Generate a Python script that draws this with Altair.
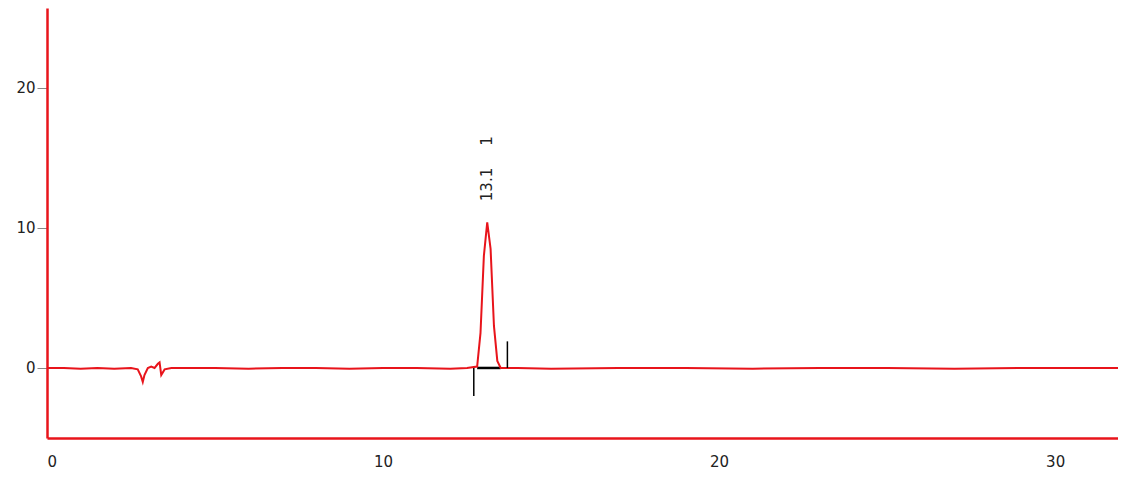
import altair as alt
import pandas as pd

# chromatogram trace (minutes, mAU)
trace_t = [0, 0.5, 1.0, 1.5, 2.0, 2.5, 2.7, 2.8, 2.85, 2.9, 3.0, 3.1, 3.2, 3.3, 3.35, 3.4, 3.5, 3.7, 4.0,
           5, 6, 7, 8, 9, 10, 11, 12, 12.5, 12.8, 12.9, 13.0, 13.1, 13.2, 13.3, 13.4, 13.5, 13.7,
           14, 15, 17, 19, 21, 23, 25, 27, 29, 31, 32]
trace_v = [0, 0, -0.05, 0, -0.05, 0, -0.1, -0.6, -1.0, -0.5, 0, 0.1, 0, 0.3, 0.4, -0.5, -0.1, 0, 0,
           0, -0.05, 0, 0, -0.05, 0, 0, -0.05, 0, 0.1, 2.5, 8.0, 10.4, 8.5, 3.0, 0.5, 0, 0,
           0, -0.05, 0, 0, -0.05, 0, 0, -0.05, 0, 0, 0]

# integration marks
mark_x = [12.7, 13.7]
mark_lo = [-2.0, 0]
mark_hi = [0, 1.9]
base_x = [12.8, 13.5]

peak_t = [13.1, 13.1]
peak_y = [13.1, 16.2]
peak_txt = ["13.1", "1"]

xs = alt.Scale(domain=[0, 31.87], nice=False, zero=False)
ys = alt.Scale(domain=[-5, 25.7], nice=False, zero=False)

trace = alt.Chart(pd.DataFrame({"t": trace_t, "v": trace_v})).mark_line(
    color="#e8141b", strokeWidth=2, clip=True
).encode(
    x=alt.X("t:Q", scale=xs, title=None,
            axis=alt.Axis(values=[0, 10, 20, 30], ticks=False, labelPadding=16,
                          domainColor="#e8141b", domainWidth=2.5, grid=False)),
    y=alt.Y("v:Q", scale=ys, title=None,
            axis=alt.Axis(values=[0, 10, 20], tickSize=10, tickColor="#888888",
                          domainColor="#e8141b", domainWidth=2.5, grid=False)),
)

ticks = alt.Chart(pd.DataFrame({"t": mark_x, "lo": mark_lo, "hi": mark_hi})).mark_rule(
    color="black", strokeWidth=1.5
).encode(x=alt.X("t:Q", scale=xs), y=alt.Y("lo:Q", scale=ys), y2="hi:Q")

baseline = alt.Chart(pd.DataFrame({"t": base_x, "v": [0, 0]})).mark_line(
    color="black", strokeWidth=2.5
).encode(x=alt.X("t:Q", scale=xs), y=alt.Y("v:Q", scale=ys))

labels = alt.Chart(pd.DataFrame({"t": peak_t, "y": peak_y, "s": peak_txt})).mark_text(
    angle=270, fontSize=15, font="DejaVu Sans", color="#222222"
).encode(x=alt.X("t:Q", scale=xs), y=alt.Y("y:Q", scale=ys), text="s:N")

chart = (baseline + trace + ticks + labels).properties(
    width=1071, height=430, autosize=alt.AutoSizeParams(type="none"),
    padding={"left": 39, "top": 0, "right": 0, "bottom": 40}
).configure_view(stroke=None).configure_axis(
    labelFont="DejaVu Sans", labelFontSize=15, labelColor="#222222"
)

chart.save("out.html", embed_options={"renderer": "svg", "actions": False})
